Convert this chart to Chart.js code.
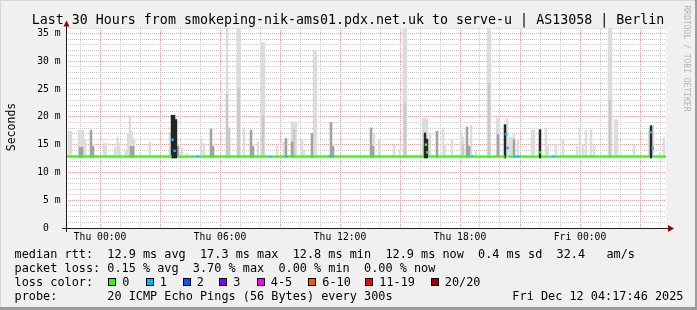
<!DOCTYPE html>
<html>
<head>
<meta charset="utf-8">
<script src="https://cdn.jsdelivr.net/npm/chart.js@4/dist/chart.umd.min.js"></script>
<style>
  html, body { margin: 0; padding: 0; background: #f0f0f0; }
  canvas { display: block; }
</style>
</head>
<body>
<canvas id="myChart" width="697" height="310"></canvas>
<script>
'use strict';

const titleText = 'Last 30 Hours from smokeping-nik-ams01.pdx.net.uk to serve-u | AS13058 | Berlin';

// x axis is in hours counted from Thu 00:00
const hourMin = -1.7;
const hourMax = 28.3;
const hourTicks = [-1, 0, 1, 2, 3, 4, 5, 6, 7, 8, 9, 10, 11, 12, 13, 14, 15, 16, 17, 18, 19, 20, 21, 22, 23, 24, 25, 26, 27, 28];
const labelHours = [0, 6, 12, 18, 24];
const labelTexts = ['Thu 00:00', 'Thu 06:00', 'Thu 12:00', 'Thu 18:00', 'Fri 00:00'];

// y axis in ms
const msMax = 36;
const msTicks = [0, 1, 2, 3, 4, 5, 6, 7, 8, 9, 10, 11, 12, 13, 14, 15, 16, 17, 18, 19, 20, 21, 22, 23, 24, 25, 26, 27, 28, 29, 30, 31, 32, 33, 34, 35, 36];

// smoke: lightest layer (all pings)
const smokeBase = 12.7;
const smokeHours = [-1.55, -1.45, -1.05, -0.95, -0.85, -0.75, -0.45, 0.2, 0.3, 0.75, 0.88, 0.95, 1.28, 1.4, 1.5, 1.6, 1.7, 2.5,
  3.5, 3.6, 3.7, 3.8, 3.9, 4.1, 4.35, 5.05, 5.2, 5.55, 6.35, 6.45, 6.88, 6.98, 7.2, 7.55, 7.9, 8.1, 8.2, 8.85, 9.2, 9.3,
  9.6, 9.7, 9.8, 10.1, 10.2, 10.6, 10.7, 10.8, 11.55, 13.55, 13.7, 13.95, 14.7, 15.0, 15.2, 15.3, 16.15, 16.25, 16.35, 16.5,
  16.85, 17.15, 17.25, 17.6, 18.05, 18.15, 18.35, 18.55, 18.8, 19.4, 19.5, 19.85, 19.95, 20.25, 20.35, 20.5, 20.6, 20.7, 20.9,
  21.6, 21.7, 22.0, 22.3, 22.4, 22.8, 23.15, 23.85, 24.0, 24.15, 24.3, 24.55, 24.7, 25.45, 25.55, 25.75, 25.85, 26.7, 27.45,
  27.55, 27.65, 28.0, 28.2];
const smokeTop = [17.4, 17.4, 17.6, 17.6, 17.6, 15.9, 17.6, 15.2, 15.2, 14.6, 16.4, 15.2, 14.0, 17.0, 20.3, 17.3, 16.1, 15.5,
  17.3, 20.3, 20.3, 20.0, 14.7, 14.4, 13.4, 15.9, 15.2, 17.8, 36, 18, 36, 36, 18, 17.6, 15.5, 33.4, 33.4, 14.7, 15.5, 16.1,
  19.1, 19.1, 19.1, 15.9, 14.1, 17.0, 32, 32, 19, 18, 17, 15.9, 14.9, 14.1, 36, 36, 19.7, 19.7, 19.7, 17.1,
  17.4, 18, 14.7, 15.9, 17, 16.4, 18.2, 18.5, 13.8, 36, 36, 19.7, 19.7, 18.6, 19.7, 16.3, 16.3, 17, 16,
  17.6, 17.6, 17.7, 18, 14.7, 15, 15.9, 14.7, 18, 14.9, 17.6, 17.7, 14.7, 36, 36, 19.5, 19.5, 15, 17.6,
  18.4, 18.4, 13.5, 16.3];

// second layer
const semiHours = [6.35, 6.45, 6.93, 8.15, 9.7, 15.25, 16.2, 18.15, 19.45, 25.5];
const semiTop = [24, 18, 25, 20.2, 17.7, 22.5, 15, 15, 26, 23];

// third layer
const midHours = [-1.0, -0.9, -0.45, -0.35, 1.55, 1.65, 3.9, 5.55, 5.65, 7.55, 7.65, 9.3, 9.6, 10.6, 11.55, 11.65,
  13.55, 13.65, 16.85, 18.35, 18.45, 19.9, 20.7];
const midTop = [14.5, 14.5, 17.6, 14.7, 14.7, 14.7, 14.7, 17.8, 14.7, 17.6, 14.7, 16.1, 15.5, 17.0, 19, 14.7,
  18, 14.7, 17.4, 18.2, 14.7, 16.8, 15.9];

// darkest layer
const darkHours = [3.6, 3.7, 3.8, 16.25, 16.35, 20.25, 22.0, 27.55];
const darkTop = [20.3, 20.3, 19.5, 17.1, 16.0, 18.6, 17.7, 18.4];

// median rtt line, split by loss colour
const segStart = [-1.7, 3.85, 4.8, 4.95, 8.5, 8.63, 9.3, 9.4, 11.45, 11.55, 16.42, 18.55, 18.65, 19.95, 20.4, 20.7, 21.0, 22.05, 22.6, 22.75, 27.65];
const segEnd = [3.6, 4.8, 4.95, 8.5, 8.63, 9.3, 9.4, 11.45, 11.55, 16.2, 18.55, 18.65, 19.85, 20.25, 20.7, 21.0, 21.95, 22.6, 22.75, 27.5, 28.35];
const segMs = [12.85, 12.85, 12.85, 12.85, 12.85, 12.85, 12.85, 12.85, 12.85, 12.85, 12.85, 12.85, 12.85, 12.85, 12.85, 12.85, 12.85, 12.85, 12.85, 12.85, 12.85];
const segLoss = [0, 0, 1, 0, 1, 0, 1, 0, 1, 0, 0, 1, 0, 0, 0, 1, 0, 0, 1, 0, 0];

// median values that jumped off the baseline
const dotHours = [3.63, 3.73, 16.3, 16.37, 20.3, 20.38, 21.98, 27.55, 27.63];
const dotMs = [15.9, 13.9, 15.0, 13.6, 16.9, 14.4, 13.6, 17.2, 14.4];
const dotLoss = [1, 1, 0, 0, 1, 1, 0, 1, 1];

const lossColors = ['#26ff00', '#00b8ff', '#0059ff', '#7e00ff', '#ff00ff', '#ff5500', '#ff0000', '#a10000'];
const lossLabels = ['0', '1', '2', '3', '4-5', '6-10', '11-19', '20/20'];

const rttLine = 'median rtt:  12.9 ms avg  17.3 ms max  12.8 ms min  12.9 ms now  0.4 ms sd  32.4   am/s';
const lossLine = 'packet loss: 0.15 % avg  3.70 % max  0.00 % min  0.00 % now';
const probeLine = 'probe:       20 ICMP Echo Pings (56 Bytes) every 300s';
const stampText = 'Fri Dec 12 04:17:46 2025';

const mono = '"DejaVu Sans Mono", "Liberation Mono", monospace';
const minorGrid = '#c6c6c6';
const majorGrid = '#f09a9a';
const barW = 1.8;

const toBars = (hours, tops, base) => hours.map((h, i) => ({ x: h, y: [base, tops[i]] }));

const medianData = [];
segStart.forEach((s, i) => {
  medianData.push({ x: s, y: segMs[i] }, { x: segEnd[i], y: segMs[i] }, { x: segEnd[i], y: null });
});

const rrdLook = {
  id: 'rrdLook',
  beforeDraw(chart) {
    const ctx = chart.ctx;
    const a = chart.chartArea;
    ctx.save();
    ctx.fillStyle = '#f0f0f0';
    ctx.fillRect(0, 0, chart.width, chart.height);
    ctx.fillStyle = '#ffffff';
    ctx.fillRect(a.left, a.top, a.right - a.left, a.bottom - a.top);
    // shaded frame
    ctx.fillStyle = '#d6d6d6';
    ctx.fillRect(0, 0, chart.width, 1);
    ctx.fillRect(0, 0, 1, chart.height);
    ctx.fillStyle = '#9c9c9c';
    ctx.fillRect(chart.width - 2, 0, 2, chart.height);
    ctx.fillRect(0, chart.height - 3, chart.width, 3);
    ctx.restore();
  },
  afterDraw(chart) {
    const ctx = chart.ctx;
    const a = chart.chartArea;
    ctx.save();

    // title first, the axis arrow sits on top of it
    ctx.fillStyle = '#000';
    ctx.font = '13.3px ' + mono;
    ctx.textAlign = 'center';
    ctx.textBaseline = 'alphabetic';
    ctx.fillText(titleText, 348, 24);

    // axes with arrows
    ctx.strokeStyle = '#202020';
    ctx.lineWidth = 1;
    ctx.beginPath();
    ctx.moveTo(a.left + 0.5, a.bottom + 4);
    ctx.lineTo(a.left + 0.5, a.top - 3);
    ctx.moveTo(a.left - 4, a.bottom + 0.5);
    ctx.lineTo(a.right + 3, a.bottom + 0.5);
    ctx.stroke();
    ctx.fillStyle = '#990000';
    ctx.beginPath();
    ctx.moveTo(a.left - 2.5, a.top - 1.5);
    ctx.lineTo(a.left + 3.5, a.top - 1.5);
    ctx.lineTo(a.left + 0.5, a.top - 7.5);
    ctx.closePath();
    ctx.fill();
    ctx.beginPath();
    ctx.moveTo(a.right + 2, a.bottom - 3);
    ctx.lineTo(a.right + 2, a.bottom + 4);
    ctx.lineTo(a.right + 8, a.bottom + 0.5);
    ctx.closePath();
    ctx.fill();

    // axis title
    ctx.fillStyle = '#000';
    ctx.save();
    ctx.translate(15, 127);
    ctx.rotate(-Math.PI / 2);
    ctx.font = '11.5px ' + mono;
    ctx.fillText('Seconds', 0, 0);
    ctx.restore();

    // rrdtool credit
    ctx.save();
    ctx.translate(686, 58.5);
    ctx.rotate(Math.PI / 2);
    ctx.font = '8px ' + mono;
    ctx.fillStyle = '#b4b4b4';
    ctx.textBaseline = 'middle';
    ctx.fillText('RRDTOOL / TOBI OETIKER', 0, 0);
    ctx.restore();

    // legend
    ctx.font = '11.85px ' + mono;
    ctx.textAlign = 'left';
    ctx.fillStyle = '#000';
    const row = [258.4, 272.2, 286.0, 299.9];
    ctx.fillText(rttLine, 14.6, row[0]);
    ctx.fillText(lossLine, 14.6, row[1]);
    ctx.fillText('loss color:', 14.6, row[2]);
    ctx.fillText(probeLine, 14.6, row[3]);
    ctx.textAlign = 'right';
    ctx.fillText(stampText, 683.5, row[3]);
    ctx.textAlign = 'left';
    const boxX = [108, 145.5, 182.5, 219, 256.5, 308, 365, 430.5];
    lossLabels.forEach((lbl, i) => {
      const bx = Math.round(boxX[i]) + 0.5;
      ctx.fillStyle = lossColors[i];
      ctx.fillRect(bx, 278.5, 7, 7);
      ctx.strokeStyle = '#000';
      ctx.strokeRect(bx, 278.5, 7, 7);
      ctx.fillStyle = '#000';
      ctx.fillText(lbl, boxX[i] + 14.3, row[2]);
    });
    ctx.restore();
  }
};

const config = {
  type: 'bar',
  data: {
    datasets: [
      {
        type: 'line',
        data: medianData,
        borderColor: lossColors[0],
        borderWidth: 2,
        pointRadius: 0,
        spanGaps: false,
        segment: {
          borderColor: (c) => lossColors[segLoss[Math.floor(c.p0DataIndex / 3)]],
        },
        order: 0,
      },
      {
        type: 'line',
        data: dotHours.map((h, i) => ({ x: h, y: dotMs[i] })),
        showLine: false,
        pointStyle: 'rect',
        pointRadius: 1.8,
        pointBorderWidth: 0,
        pointBackgroundColor: dotLoss.map((l) => lossColors[l]),
        order: 0,
      },
      {
        data: toBars(darkHours, darkTop, 12.6),
        backgroundColor: '#262626',
        barThickness: barW,
        grouped: false,
        borderWidth: 0,
        order: 1,
      },
      {
        data: toBars(midHours, midTop, smokeBase),
        backgroundColor: '#a2a2a2',
        barThickness: barW,
        grouped: false,
        borderWidth: 0,
        order: 2,
      },
      {
        data: toBars(semiHours, semiTop, smokeBase),
        backgroundColor: '#c8c8c8',
        barThickness: barW,
        grouped: false,
        borderWidth: 0,
        order: 3,
      },
      {
        data: toBars(smokeHours, smokeTop, smokeBase),
        backgroundColor: '#dcdcdc',
        barThickness: barW,
        grouped: false,
        borderWidth: 0,
        order: 4,
      },
    ],
  },
  options: {
    responsive: false,
    animation: false,
    devicePixelRatio: 1,
    layout: { padding: { left: 0, top: 28, right: 31, bottom: 62 } },
    plugins: { legend: { display: false }, tooltip: { enabled: false } },
    scales: {
      x: {
        type: 'linear',
        min: hourMin,
        max: hourMax,
        offset: false,
        afterBuildTicks: (s) => { s.ticks = hourTicks.map((v) => ({ value: v })); },
        afterFit: (s) => { s.height = 20; },
        grid: {
          offset: false,
          drawTicks: false,
          lineWidth: 1,
          color: (c) => (c.tick && c.tick.value % 3 === 0 ? majorGrid : minorGrid),
        },
        border: { display: false, dash: [1, 1] },
        ticks: {
          autoSkip: false,
          maxRotation: 0,
          minRotation: 0,
          padding: 4,
          color: '#000',
          font: { family: mono, size: 9.7 },
          callback: (v) => {
            const i = labelHours.indexOf(v);
            return i >= 0 ? labelTexts[i] : '';
          },
        },
      },
      y: {
        type: 'linear',
        min: 0,
        max: msMax,
        afterBuildTicks: (s) => { s.ticks = msTicks.map((v) => ({ value: v })); },
        afterFit: (s) => { s.width = 66; },
        grid: {
          drawTicks: false,
          lineWidth: 1,
          color: (c) => (c.tick && c.tick.value % 5 === 0 ? majorGrid : minorGrid),
        },
        border: { display: false, dash: [1, 1] },
        ticks: {
          autoSkip: false,
          padding: 5.5,
          color: '#000',
          font: { family: mono, size: 9.7 },
          callback: (v) => (v % 5 === 0 ? (v === 0 ? '0  ' : v + ' m') : ''),
        },
      },
    },
  },
  plugins: [rrdLook],
};

const myChart = new Chart(document.getElementById('myChart'), config);
</script>
</body>
</html>
